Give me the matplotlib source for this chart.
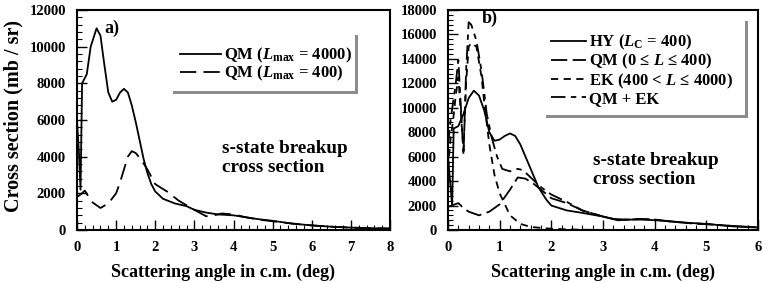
import matplotlib
matplotlib.use("Agg")
import matplotlib.pyplot as plt
from matplotlib.patches import Rectangle
from matplotlib.ticker import MultipleLocator

plt.rcParams["font.family"] = ["Liberation Serif", "DejaVu Serif"]
plt.rcParams["font.weight"] = "bold"
plt.rcParams["mathtext.fontset"] = "custom"
plt.rcParams["mathtext.rm"] = "Liberation Serif:bold"
plt.rcParams["mathtext.it"] = "Liberation Serif:bold:italic"
plt.rcParams["mathtext.bf"] = "Liberation Serif:bold"

# panel a) data
a_qm4000_x = [0, 0.05, 0.09, 0.13, 0.25, 0.35, 0.5, 0.6, 0.7, 0.8, 0.9, 1.0, 1.1, 1.2, 1.3,
              1.4, 1.5, 1.6, 1.7, 1.8, 1.9, 2.0, 2.2, 2.5, 2.8, 3.0, 3.3, 3.6, 4.0, 4.3,
              4.6, 5.0, 5.5, 6.0, 6.5, 7.0, 7.5, 8.0]
a_qm4000_y = [6000, 4200, 2200, 8000, 8500, 10000, 11000, 10600, 9000, 7500, 7000, 7100, 7500,
              7700, 7500, 6800, 5900, 4900, 3900, 3100, 2500, 2100, 1700, 1450, 1300, 1100,
              950, 850, 800, 700, 600, 500, 350, 250, 180, 130, 100, 80]

a_qm400_x = [0, 0.1, 0.2, 0.3, 0.4, 0.6, 0.8, 1.0, 1.1, 1.2, 1.3, 1.4, 1.5, 1.65, 1.8, 2.0,
             2.3, 2.6, 3.0, 3.3, 3.5, 3.7, 4.0, 4.3, 4.7, 5.0, 5.5, 6.0, 6.5, 7.0, 7.5, 8.0]
a_qm400_y = [1800, 1950, 2150, 1800, 1500, 1200, 1450, 2000, 2600, 3300, 4000, 4300, 4200,
             3800, 3300, 2500, 2100, 1600, 1100, 750, 800, 900, 850, 700, 550, 480, 350, 250,
             180, 130, 100, 80]

# panel b) data
b_hy_x = [0, 0.05, 0.08, 0.11, 0.2, 0.3, 0.4, 0.5, 0.6, 0.7, 0.8, 0.9, 1.0, 1.1, 1.2, 1.3,
          1.4, 1.45, 1.6, 1.75, 1.9, 2.0, 2.3, 2.6, 3.0, 3.2, 3.5, 3.8, 4.2, 4.6, 5.0, 5.5, 6.0]
b_hy_y = [6000, 3500, 2000, 8300, 8500, 9500, 10800, 11400, 11000, 9800, 8000, 7300, 7400,
          7700, 7900, 7700, 7000, 6500, 5000, 3500, 2500, 2000, 1600, 1400, 1100, 900, 850,
          850, 750, 600, 500, 300, 200]

b_qm_x = [0, 0.1, 0.2, 0.3, 0.4, 0.6, 0.8, 1.0, 1.1, 1.2, 1.35, 1.5, 1.65, 1.8, 2.0, 2.3,
          2.6, 3.0, 3.3, 3.7, 4.0, 4.3, 4.7, 5.0, 5.5, 6.0]
b_qm_y = [1900, 2050, 2200, 1800, 1500, 1200, 1500, 2100, 2700, 3300, 4300, 4200, 3800, 3300,
          2600, 2200, 1600, 1100, 800, 900, 850, 700, 550, 480, 330, 220]

b_ek_x = [0, 0.05, 0.1, 0.15, 0.2, 0.25, 0.3, 0.35, 0.4, 0.45, 0.55, 0.65, 0.7, 0.8, 0.9,
          1.0, 1.2, 1.4, 1.6, 2.0, 2.5, 3.0]
b_ek_y = [5000, 7500, 9000, 11000, 12500, 9500, 6500, 12000, 15000, 15300, 15000, 12500,
          10500, 7000, 4500, 3000, 1200, 500, 250, 100, 30, 0]

b_sum_x = [0, 0.05, 0.1, 0.15, 0.2, 0.25, 0.3, 0.35, 0.4, 0.45, 0.55, 0.65, 0.75, 0.85, 0.95,
           1.05, 1.2, 1.35, 1.45, 1.6, 1.8, 2.0, 2.3, 2.6, 3.0, 3.3, 3.7, 4.0, 4.3, 4.7, 5.0,
           5.5, 6.0]
b_sum_y = [7000, 9000, 10500, 12000, 13900, 10000, 6100, 13000, 17000, 16800, 15500, 13000,
           9500, 7500, 6000, 5000, 4800, 5000, 4900, 4300, 3500, 2900, 2300, 1600, 1100, 800,
           900, 850, 700, 550, 480, 330, 220]

W, H = 763, 283


def px_axes(fig, left, top, right, bottom):
    return fig.add_axes([left / W, (H - bottom) / H, (right - left) / W, (bottom - top) / H])


def shadow_box(fig, left, top, right, bottom, off=3):
    fig.patches.append(Rectangle((left / W + off / W, (H - bottom - off) / H),
                                 (right - left) / W, (bottom - top) / H,
                                 transform=fig.transFigure, facecolor="#8c8c8c",
                                 edgecolor="none", zorder=3))
    fig.patches.append(Rectangle((left / W, (H - bottom) / H),
                                 (right - left) / W, (bottom - top) / H,
                                 transform=fig.transFigure, facecolor="white",
                                 edgecolor="none", zorder=4))


def style_axes(ax, xmax, ymax, ystep):
    ax.set_xlim(0, xmax)
    ax.set_ylim(0, ymax)
    ax.xaxis.set_major_locator(MultipleLocator(1))
    ax.xaxis.set_minor_locator(MultipleLocator(0.2))
    ax.yaxis.set_major_locator(MultipleLocator(ystep))
    ax.yaxis.set_minor_locator(MultipleLocator(400))
    ax.tick_params(which="both", direction="in", labelsize=10.5, pad=8)
    ax.tick_params(which="major", length=7, width=1)
    ax.tick_params(which="minor", length=3.5, width=0.8)
    for s in ax.spines.values():
        s.set_linewidth(1.5)
    for lab in ax.get_xticklabels() + ax.get_yticklabels():
        lab.set_fontweight("bold")
    ax.set_xlabel("Scattering angle in c.m. (deg)", fontsize=13, fontweight="bold")


fig = plt.figure(figsize=(W / 100, H / 100), dpi=100)

# panel a
ax1 = px_axes(fig, 77, 10, 390, 230)
l1, = ax1.plot(a_qm4000_x, a_qm4000_y, color="black", lw=1.3)
l2, = ax1.plot(a_qm400_x, a_qm400_y, color="black", lw=1.3, dashes=(9, 4))
style_axes(ax1, 8, 12000, 2000)
ax1.xaxis.set_label_coords(0.466, -0.155)
ax1.set_ylabel("Cross section (mb / sr)", fontsize=14.5, fontweight="bold")
ax1.yaxis.set_label_coords(-0.172, 0.518)
ax1.text(0.112, 0.918, "a)", transform=ax1.transAxes, fontsize=13, fontweight="bold",
         ha="center", va="center")
ax1.text(0.463, 0.327, "s-state breakup\ncross section", transform=ax1.transAxes,
         fontsize=13.8, fontweight="bold", ha="left", va="center", linespacing=1.2)
shadow_box(fig, 170, 32, 355, 91)
leg1 = fig.legend([l1, l2],
                  [r"QM ($L_{\mathrm{max}}$ = 4000)", r"QM ($L_{\mathrm{max}}$ = 400)"],
                  loc="upper left", bbox_to_anchor=(180 / W, (H - 46) / H), frameon=False,
                  fontsize=12, handlelength=2.45, handletextpad=0.2, labelspacing=-0.08,
                  borderpad=0, borderaxespad=0)
leg1.set_zorder(5)

# panel b
ax2 = px_axes(fig, 448, 10, 758, 230)
h1, = ax2.plot(b_hy_x, b_hy_y, color="black", lw=1.3)
h2, = ax2.plot(b_qm_x, b_qm_y, color="black", lw=1.3, dashes=(9, 3))
h3, = ax2.plot(b_ek_x, b_ek_y, color="black", lw=1.3, dashes=(4, 3))
h4, = ax2.plot(b_sum_x, b_sum_y, color="black", lw=1.3, dashes=(8, 3, 3, 3))
style_axes(ax2, 6, 18000, 2000)
ax2.xaxis.set_label_coords(0.5, -0.155)
ax2.text(0.135, 0.964, "b)", transform=ax2.transAxes, fontsize=13, fontweight="bold",
         ha="center", va="center")
ax2.text(0.468, 0.273, "s-state breakup\ncross section", transform=ax2.transAxes,
         fontsize=13.8, fontweight="bold", ha="left", va="center", linespacing=1.2)
shadow_box(fig, 543, 18, 745, 115)
leg2 = fig.legend([h1, h2, h3, h4],
                  [r"HY ($L_{\mathrm{C}}$ = 400)", r"QM (0 ≤ $L$ ≤ 400)",
                   r"EK (400 < $L$ ≤ 4000)", "QM + EK"],
                  loc="upper left", bbox_to_anchor=(551 / W, (H - 33) / H), frameon=False,
                  fontsize=12, handlelength=2.1, handletextpad=0.2, labelspacing=0.0,
                  borderpad=0, borderaxespad=0)
leg2.set_zorder(5)

fig.savefig("out.png", dpi=100)
